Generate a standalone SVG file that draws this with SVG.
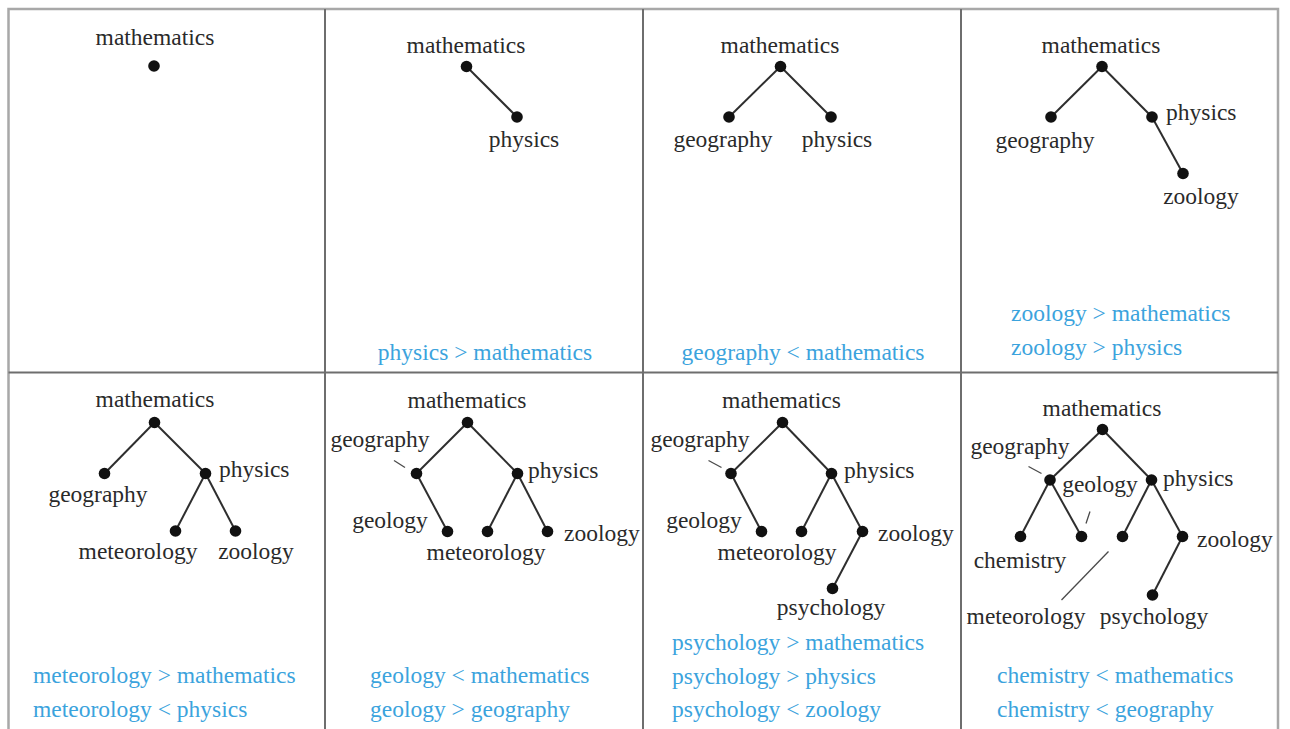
<svg xmlns="http://www.w3.org/2000/svg" width="1290" height="729" viewBox="0 0 1290 729">
  <style>
    .frame { fill: none; stroke: #a8a8a8; stroke-width: 2.5; }
    .divider { stroke: #6e6e6e; stroke-width: 2; }
    .edge { stroke: #2e2e2e; stroke-width: 2; fill: none; }
    .leader { stroke: #4a4a4a; stroke-width: 1.3; fill: none; }
    .dot { fill: #111; }
    text { font-family: "Liberation Serif", "Times New Roman", serif; font-size: 23.5px; }
    .lbl { fill: #2a2a2a; }
    .mid { text-anchor: middle; }
    .rel { fill: #3ba3dd; }
  </style>
  <defs>
    <circle id="pt" r="5.8" class="dot"/>
  </defs>

  <rect width="1290" height="729" fill="#fff"/>

  <!-- grid frame -->
  <g id="grid">
    <path class="frame" d="M8.5 729 V9 H1278 V729"/>
    <line class="divider" x1="8.5" y1="372.5" x2="1278" y2="372.5"/>
    <line class="divider" x1="325" y1="9" x2="325" y2="729"/>
    <line class="divider" x1="643" y1="9" x2="643" y2="729"/>
    <line class="divider" x1="961" y1="9" x2="961" y2="729"/>
  </g>

  <!-- tree edges and label leaders -->
  <g id="connectors">
    <!-- panel 2 -->
    <line class="edge" x1="466.5" y1="66.5" x2="517" y2="117"/>
    <!-- panel 3 -->
    <line class="edge" x1="780.5" y1="66.5" x2="729" y2="117"/>
    <line class="edge" x1="780.5" y1="66.5" x2="831" y2="117"/>
    <!-- panel 4 -->
    <line class="edge" x1="1102" y1="66.5" x2="1051" y2="117"/>
    <line class="edge" x1="1102" y1="66.5" x2="1152" y2="117"/>
    <line class="edge" x1="1152" y1="117" x2="1183" y2="173.5"/>
    <!-- panel 5 -->
    <line class="edge" x1="154.5" y1="422.5" x2="104.5" y2="473.5"/>
    <line class="edge" x1="154.5" y1="422.5" x2="205.5" y2="473.5"/>
    <line class="edge" x1="205.5" y1="473.5" x2="175.5" y2="531"/>
    <line class="edge" x1="205.5" y1="473.5" x2="235.5" y2="531"/>
    <!-- panel 6 -->
    <line class="edge" x1="467.5" y1="422.5" x2="416.5" y2="473.5"/>
    <line class="edge" x1="467.5" y1="422.5" x2="517.5" y2="473.5"/>
    <line class="edge" x1="416.5" y1="473.5" x2="447.5" y2="531.5"/>
    <line class="edge" x1="517.5" y1="473.5" x2="487.5" y2="531.5"/>
    <line class="edge" x1="517.5" y1="473.5" x2="547.5" y2="531.5"/>
    <line class="leader" x1="394" y1="460.5" x2="405" y2="467.5"/>
    <!-- panel 7 -->
    <line class="edge" x1="782.5" y1="422.5" x2="731" y2="473.5"/>
    <line class="edge" x1="782.5" y1="422.5" x2="831.5" y2="473.5"/>
    <line class="edge" x1="731" y1="473.5" x2="761.5" y2="531.5"/>
    <line class="edge" x1="831.5" y1="473.5" x2="801.5" y2="531.5"/>
    <line class="edge" x1="831.5" y1="473.5" x2="862.5" y2="531.5"/>
    <line class="edge" x1="862.5" y1="531.5" x2="832.5" y2="588.5"/>
    <line class="leader" x1="708.5" y1="460.5" x2="721.5" y2="467.5"/>
    <!-- panel 8 -->
    <line class="edge" x1="1102.5" y1="429.5" x2="1050" y2="480"/>
    <line class="edge" x1="1102.5" y1="429.5" x2="1151.5" y2="480"/>
    <line class="edge" x1="1050" y1="480" x2="1020.5" y2="536.5"/>
    <line class="edge" x1="1050" y1="480" x2="1081.5" y2="536.5"/>
    <line class="edge" x1="1151.5" y1="480" x2="1122.5" y2="536.5"/>
    <line class="edge" x1="1151.5" y1="480" x2="1182.5" y2="536.5"/>
    <line class="edge" x1="1182.5" y1="536.5" x2="1152.5" y2="595"/>
    <line class="leader" x1="1028.5" y1="466.5" x2="1041.5" y2="473.5"/>
    <line class="leader" x1="1086" y1="523.5" x2="1090" y2="511.5"/>
    <line class="leader" x1="1061.5" y1="600" x2="1108.5" y2="551.5"/>
  </g>

  <!-- panel 1 -->
  <g id="p1-mathematics"><use href="#pt" x="154" y="66"/><text class="lbl mid" x="155" y="45">mathematics</text></g>

  <!-- panel 2 -->
  <g id="p2-mathematics"><use href="#pt" x="466.5" y="66.5"/><text class="lbl mid" x="466" y="53">mathematics</text></g>
  <g id="p2-physics"><use href="#pt" x="517" y="117"/><text class="lbl mid" x="524" y="147">physics</text></g>
  <g id="p2-relations"><text class="rel mid" x="485" y="360">physics &gt; mathematics</text></g>

  <!-- panel 3 -->
  <g id="p3-mathematics"><use href="#pt" x="780.5" y="66.5"/><text class="lbl mid" x="780" y="53">mathematics</text></g>
  <g id="p3-geography"><use href="#pt" x="729" y="117"/><text class="lbl mid" x="723" y="147">geography</text></g>
  <g id="p3-physics"><use href="#pt" x="831" y="117"/><text class="lbl mid" x="837" y="147">physics</text></g>
  <g id="p3-relations"><text class="rel mid" x="803" y="360">geography &lt; mathematics</text></g>

  <!-- panel 4 -->
  <g id="p4-mathematics"><use href="#pt" x="1102" y="66.5"/><text class="lbl mid" x="1101" y="53">mathematics</text></g>
  <g id="p4-geography"><use href="#pt" x="1051" y="117"/><text class="lbl mid" x="1045" y="148">geography</text></g>
  <g id="p4-physics"><use href="#pt" x="1152" y="117"/><text class="lbl" x="1166" y="120">physics</text></g>
  <g id="p4-zoology"><use href="#pt" x="1183" y="173.5"/><text class="lbl mid" x="1201" y="204">zoology</text></g>
  <g id="p4-relations">
    <text class="rel" x="1011" y="321">zoology &gt; mathematics</text>
    <text class="rel" x="1011" y="355">zoology &gt; physics</text>
  </g>

  <!-- panel 5 -->
  <g id="p5-mathematics"><use href="#pt" x="154.5" y="422.5"/><text class="lbl mid" x="155" y="407">mathematics</text></g>
  <g id="p5-geography"><use href="#pt" x="104.5" y="473.5"/><text class="lbl mid" x="98" y="502">geography</text></g>
  <g id="p5-physics"><use href="#pt" x="205.5" y="473.5"/><text class="lbl" x="219" y="477">physics</text></g>
  <g id="p5-meteorology"><use href="#pt" x="175.5" y="531"/><text class="lbl mid" x="138" y="559">meteorology</text></g>
  <g id="p5-zoology"><use href="#pt" x="235.5" y="531"/><text class="lbl mid" x="256" y="559">zoology</text></g>
  <g id="p5-relations">
    <text class="rel" x="33" y="683">meteorology &gt; mathematics</text>
    <text class="rel" x="33" y="717">meteorology &lt; physics</text>
  </g>

  <!-- panel 6 -->
  <g id="p6-mathematics"><use href="#pt" x="467.5" y="422.5"/><text class="lbl mid" x="467" y="408">mathematics</text></g>
  <g id="p6-geography"><use href="#pt" x="416.5" y="473.5"/><text class="lbl mid" x="380" y="447">geography</text></g>
  <g id="p6-physics"><use href="#pt" x="517.5" y="473.5"/><text class="lbl" x="528" y="478">physics</text></g>
  <g id="p6-geology"><use href="#pt" x="447.5" y="531.5"/><text class="lbl mid" x="390" y="528">geology</text></g>
  <g id="p6-meteorology"><use href="#pt" x="487.5" y="531.5"/><text class="lbl mid" x="486" y="560">meteorology</text></g>
  <g id="p6-zoology"><use href="#pt" x="547.5" y="531.5"/><text class="lbl" x="564" y="541">zoology</text></g>
  <g id="p6-relations">
    <text class="rel" x="370" y="683">geology &lt; mathematics</text>
    <text class="rel" x="370" y="717">geology &gt; geography</text>
  </g>

  <!-- panel 7 -->
  <g id="p7-mathematics"><use href="#pt" x="782.5" y="422.5"/><text class="lbl mid" x="781.5" y="408">mathematics</text></g>
  <g id="p7-geography"><use href="#pt" x="731" y="473.5"/><text class="lbl mid" x="700" y="447">geography</text></g>
  <g id="p7-physics"><use href="#pt" x="831.5" y="473.5"/><text class="lbl" x="844" y="478">physics</text></g>
  <g id="p7-geology"><use href="#pt" x="761.5" y="531.5"/><text class="lbl mid" x="704" y="528">geology</text></g>
  <g id="p7-meteorology"><use href="#pt" x="801.5" y="531.5"/><text class="lbl mid" x="777" y="560">meteorology</text></g>
  <g id="p7-zoology"><use href="#pt" x="862.5" y="531.5"/><text class="lbl" x="878" y="541">zoology</text></g>
  <g id="p7-psychology"><use href="#pt" x="832.5" y="588.5"/><text class="lbl mid" x="831" y="615">psychology</text></g>
  <g id="p7-relations">
    <text class="rel" x="672" y="650">psychology &gt; mathematics</text>
    <text class="rel" x="672" y="684">psychology &gt; physics</text>
    <text class="rel" x="672" y="717">psychology &lt; zoology</text>
  </g>

  <!-- panel 8 -->
  <g id="p8-mathematics"><use href="#pt" x="1102.5" y="429.5"/><text class="lbl mid" x="1102" y="416">mathematics</text></g>
  <g id="p8-geography"><use href="#pt" x="1050" y="480"/><text class="lbl mid" x="1020" y="454">geography</text></g>
  <g id="p8-physics"><use href="#pt" x="1151.5" y="480"/><text class="lbl" x="1163" y="486">physics</text></g>
  <g id="p8-chemistry"><use href="#pt" x="1020.5" y="536.5"/><text class="lbl mid" x="1020" y="568">chemistry</text></g>
  <g id="p8-geology"><use href="#pt" x="1081.5" y="536.5"/><text class="lbl mid" x="1100" y="492">geology</text></g>
  <g id="p8-meteorology"><use href="#pt" x="1122.5" y="536.5"/><text class="lbl mid" x="1026" y="624">meteorology</text></g>
  <g id="p8-zoology"><use href="#pt" x="1182.5" y="536.5"/><text class="lbl" x="1197" y="547">zoology</text></g>
  <g id="p8-psychology"><use href="#pt" x="1152.5" y="595"/><text class="lbl mid" x="1154" y="624">psychology</text></g>
  <g id="p8-relations">
    <text class="rel" x="997" y="683">chemistry &lt; mathematics</text>
    <text class="rel" x="997" y="717">chemistry &lt; geography</text>
  </g>
</svg>
